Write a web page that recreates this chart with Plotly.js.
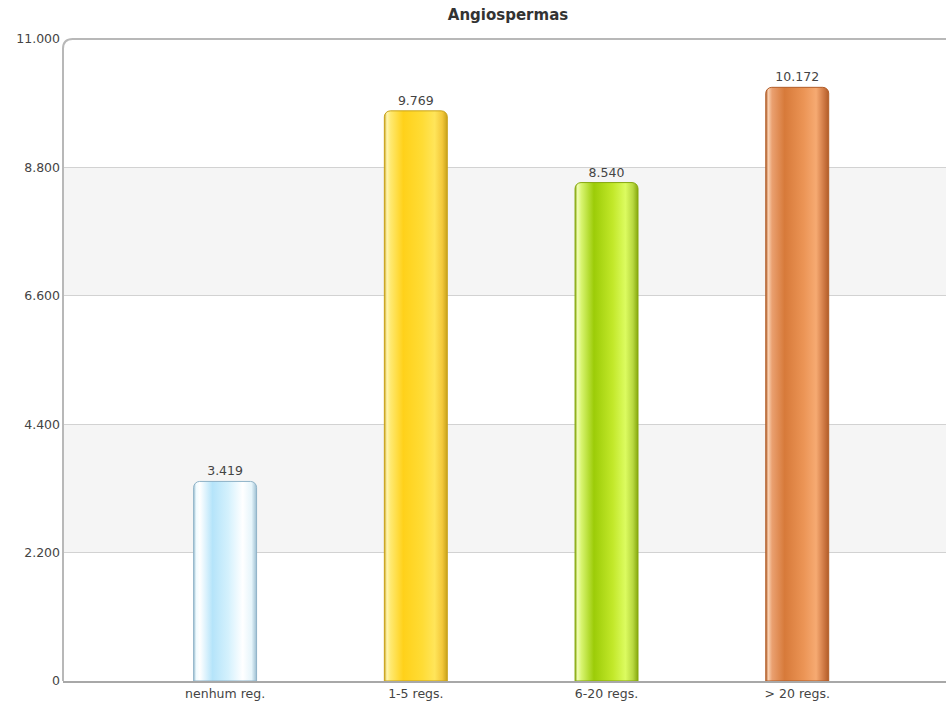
<!DOCTYPE html>
<html><head><meta charset="utf-8">
<script src="https://cdn.plot.ly/plotly-3.0.1.min.js"></script>
<style>html,body{margin:0;padding:0;background:#fff}#chart{width:946px;height:704px}</style>
</head><body><div id="chart"></div>
<script>
const categories = ['nenhum reg.', '1-5 regs.', '6-20 regs.', '> 20 regs.'];
const values = [3419, 9769, 8540, 10172];
const tickValues = [0, 2200, 4400, 6600, 8800, 11000];
const chartTitle = 'Angiospermas';

const baseColors = ['#c9eefc', '#ffd820', '#b8e21a', '#e8874a'];
const edgeColors = ['#8fb3c8', '#c9a21a', '#86a80e', '#b25d28'];
const gradients = [
  [[0,'#9dbfd2'],[0.04,'#f0fbff'],[0.1,'#ffffff'],[0.3,'#b5e4fa'],[0.55,'#d4f1fd'],[0.78,'#ffffff'],[0.92,'#e6f5fb'],[1,'#9dbfd2']],
  [[0,'#c9a21a'],[0.04,'#fff6b0'],[0.1,'#ffe970'],[0.3,'#ffd11a'],[0.6,'#ffdc35'],[0.8,'#ffe55a'],[0.92,'#f3c83a'],[1,'#c9a21a']],
  [[0,'#86a80e'],[0.04,'#f0ffb0'],[0.1,'#d8f570'],[0.3,'#9ccc08'],[0.6,'#c2e82a'],[0.8,'#dcfb60'],[0.92,'#b8d840'],[1,'#86a80e']],
  [[0,'#b25d28'],[0.04,'#fad0b0'],[0.1,'#eaa070'],[0.3,'#d77a3a'],[0.6,'#eb9455'],[0.8,'#f6aa72'],[0.92,'#d07a45'],[1,'#b25d28']]
];

const FONT = 'DejaVu Sans, Verdana, sans-serif';

const shapes = [];
for (let i = 0; i + 1 < tickValues.length; i++) {
  if (i % 2 === 1) {
    shapes.push({type:'rect', xref:'paper', yref:'y', x0:0, x1:1, y0:tickValues[i], y1:tickValues[i+1],
      fillcolor:'#f5f5f5', line:{width:0}, layer:'below'});
  }
}
// frame: left + top with rounded corner
shapes.push({type:'path', xref:'paper', yref:'paper',
  path:'M 0,0 L 0,0.985 Q 0,1 0.011,1 L 1,1', line:{color:'#b8b8b8', width:2}, layer:'above'});

const trace = {
  type:'bar', x:categories, y:values, width:0.33,
  marker:{color:baseColors, line:{color:edgeColors, width:1}, cornerradius:6},
  texttemplate:'%{y:,}', textposition:'outside', cliponaxis:false,
  textfont:{family:FONT, size:12.5, color:'#444'},
  hoverinfo:'x+y'
};

const layout = {
  width:946, height:704,
  margin:{l:63, r:0, t:39, b:23},
  paper_bgcolor:'#fff', plot_bgcolor:'#fff',
  separators:',.',
  showlegend:false,
  title:{text:'<b>'+chartTitle+'</b>', font:{family:FONT, size:15, color:'#333'}, xref:'container', x:0.537, xanchor:'center', yref:'container', y:0.979, yanchor:'middle'},
  xaxis:{type:'category', range:[-0.85, 3.78], showline:true, linecolor:'#a8a8a8', linewidth:2,
    ticks:'', showgrid:false, zeroline:false,
    tickfont:{family:FONT, size:12.5, color:'#444'}},
  yaxis:{range:[0, 11000], tickvals:tickValues, tickformat:',', showline:false, ticks:'',
    showgrid:true, gridcolor:'#d2d2d2', gridwidth:1, zeroline:false, ticklabelstandoff:2,
    tickfont:{family:FONT, size:12.5, color:'#444'}},
  shapes:shapes
};

Plotly.newPlot('chart', [trace], layout, {displayModeBar:false, staticPlot:true}).then(function(gd){
  const svg = gd.querySelector('svg.main-svg');
  let defs = svg.querySelector('defs');
  const NS = 'http://www.w3.org/2000/svg';
  gradients.forEach(function(stops, i){
    const lg = document.createElementNS(NS, 'linearGradient');
    lg.setAttribute('id', 'bargrad' + i);
    lg.setAttribute('x1','0'); lg.setAttribute('x2','1'); lg.setAttribute('y1','0'); lg.setAttribute('y2','0');
    stops.forEach(function(s){
      const st = document.createElementNS(NS, 'stop');
      st.setAttribute('offset', s[0]);
      st.setAttribute('stop-color', s[1]);
      lg.appendChild(st);
    });
    defs.appendChild(lg);
  });
  const paths = gd.querySelectorAll('.barlayer .point path');
  paths.forEach(function(p, i){
    p.style.fill = 'url(#bargrad' + i + ')';
  });
});
</script>
</body></html>
